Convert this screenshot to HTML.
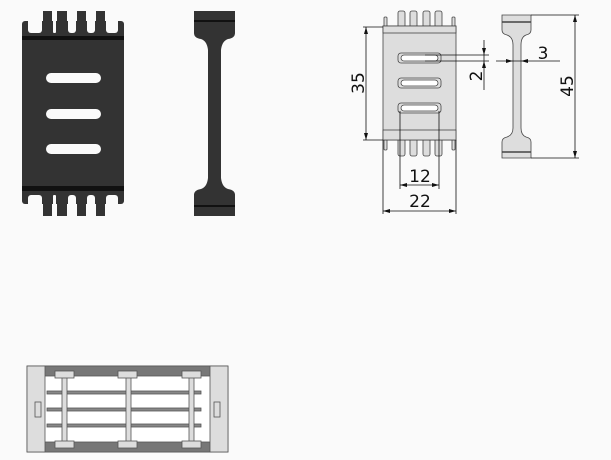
<!DOCTYPE html>
<html><head><style>
html,body{margin:0;padding:0;background:#fafafa;}
svg{display:block;}
text{font-family:"DejaVu Sans","Liberation Sans",sans-serif;fill:#111;}
</style></head><body>
<svg width="611" height="460" viewBox="0 0 611 460" xmlns="http://www.w3.org/2000/svg">
<rect width="611" height="460" fill="#fafafa"/>
<g fill="#333">
<rect x="22" y="21" width="102" height="183" rx="3"/>
<rect x="43" y="11" width="9" height="25"/><rect x="57" y="11" width="10" height="25"/>
<rect x="77" y="11" width="9" height="25"/><rect x="96" y="11" width="9" height="25"/>
<rect x="43" y="190" width="9" height="26"/><rect x="57" y="190" width="10" height="26"/>
<rect x="77" y="190" width="9" height="26"/><rect x="96" y="190" width="9" height="26"/>
</g>
<g fill="#fafafa">
<rect x="28" y="11" width="14" height="22" rx="3"/><rect x="53" y="11" width="3" height="22" rx="1"/>
<rect x="68" y="11" width="8" height="22" rx="3"/><rect x="87" y="11" width="8" height="22" rx="3"/>
<rect x="106" y="11" width="12" height="22" rx="3"/>
<rect x="28" y="195" width="14" height="22" rx="3"/><rect x="53" y="195" width="3" height="22" rx="1"/>
<rect x="68" y="195" width="8" height="22" rx="3"/><rect x="87" y="195" width="8" height="22" rx="3"/>
<rect x="106" y="195" width="12" height="22" rx="3"/>
<rect x="46" y="73" width="55" height="10" rx="5"/>
<rect x="46" y="109" width="55" height="10" rx="5"/>
<rect x="46" y="144" width="55" height="10" rx="5"/>
</g>
<rect x="22" y="36" width="102" height="4" fill="#111"/>
<rect x="22" y="186" width="102" height="5" fill="#111"/>
<path d="M194 11 H235 V33 Q235 38 228 39 Q222 41 221 50 V178 Q222 187 228 189 Q235 190 235 195 V216 H194 V195 Q194 190 201 189 Q207 187 208 178 V50 Q207 41 201 39 Q194 38 194 33 Z" fill="#333"/>
<rect x="194" y="20" width="41" height="2" fill="#111"/>
<rect x="194" y="205" width="41" height="2" fill="#111"/>
<g stroke="#444" stroke-width="0.8" fill="#ddd">
<rect x="398" y="11" width="7" height="20" rx="2"/><rect x="410" y="11" width="7" height="20" rx="2"/>
<rect x="423" y="11" width="7" height="20" rx="2"/><rect x="435" y="11" width="7" height="20" rx="2"/>
<rect x="384" y="17" width="3" height="14" rx="1"/><rect x="452" y="17" width="3" height="14" rx="1"/>
<rect x="398" y="136" width="7" height="20" rx="2"/><rect x="410" y="136" width="7" height="20" rx="2"/>
<rect x="423" y="136" width="7" height="20" rx="2"/><rect x="435" y="136" width="7" height="20" rx="2"/>
<rect x="384" y="136" width="3" height="14" rx="1"/><rect x="452" y="136" width="3" height="14" rx="1"/>
<rect x="383" y="26" width="73" height="114"/>
<rect x="383" y="26" width="73" height="7"/>
<rect x="383" y="130" width="73" height="10"/>
<rect x="398" y="53" width="43" height="10" rx="3"/>
<rect x="398" y="78" width="43" height="10" rx="3"/>
<rect x="398" y="103" width="43" height="10" rx="3"/>
</g>
<g fill="#fff" stroke="#444" stroke-width="0.8">
<rect x="401" y="55" width="37" height="6" rx="3"/>
<rect x="401" y="80" width="37" height="6" rx="3"/>
<rect x="401" y="105" width="37" height="6" rx="3"/>
</g>
<path d="M502 15 H531 V30 Q531 34 526 35 Q521 37 521 45 V128 Q521 135 526 137 Q531 138 531 142 V158 H502 V142 Q502 138 507 137 Q513 135 513 128 V45 Q513 37 507 35 Q502 34 502 30 Z" fill="#ddd" stroke="#444" stroke-width="0.8"/>
<line x1="502" y1="22" x2="531" y2="22" stroke="#444" stroke-width="1.5"/>
<line x1="502" y1="152" x2="531" y2="152" stroke="#444" stroke-width="1.5"/>
<g stroke="#111" stroke-width="0.8" fill="none">
<line x1="363" y1="27" x2="383" y2="27"/><line x1="363" y1="140" x2="383" y2="140"/>
<line x1="366" y1="27" x2="366" y2="140"/>
<line x1="531" y1="15" x2="579" y2="15"/><line x1="531" y1="158" x2="579" y2="158"/>
<line x1="575" y1="15" x2="575" y2="158"/>
<line x1="383" y1="140" x2="383" y2="214"/><line x1="456" y1="140" x2="456" y2="214"/>
<line x1="383" y1="211" x2="456" y2="211"/>
<line x1="400" y1="111" x2="400" y2="189"/><line x1="439" y1="111" x2="439" y2="189"/>
<line x1="400" y1="185" x2="439" y2="185"/>
<line x1="425" y1="55" x2="489" y2="55"/><line x1="425" y1="61" x2="489" y2="61"/>
<line x1="484" y1="40" x2="484" y2="90"/>
<line x1="496" y1="61" x2="560" y2="61"/>
</g>
<g fill="#111">
<path d="M366 27 l-2 7 h4z"/><path d="M366 140 l-2 -7 h4z"/>
<path d="M575 15 l-2 7 h4z"/><path d="M575 158 l-2 -7 h4z"/>
<path d="M383 211 l7 -2 v4z"/><path d="M456 211 l-7 -2 v4z"/>
<path d="M400 185 l7 -2 v4z"/><path d="M439 185 l-7 -2 v4z"/>
<path d="M484 55 l-2 -7 h4z"/><path d="M484 61 l-2 7 h4z"/>
<path d="M513 61 l-7 -2 v4z"/><path d="M521 61 l7 -2 v4z"/>
</g>
<text x="420" y="207" font-size="17" text-anchor="middle">22</text>
<text x="420" y="182" font-size="17" text-anchor="middle">12</text>
<text x="543" y="59" font-size="17" text-anchor="middle">3</text>
<text transform="translate(364,83) rotate(-90)" font-size="17" text-anchor="middle">35</text>
<text transform="translate(573,86) rotate(-90)" font-size="17" text-anchor="middle">45</text>
<text transform="translate(482,76) rotate(-90)" font-size="17" text-anchor="middle">2</text>
<g stroke="#555" stroke-width="0.8">
<rect x="27" y="366" width="201" height="86" fill="#fff"/>
<rect x="43" y="366" width="169" height="10" fill="#777"/>
<rect x="43" y="442" width="169" height="10" fill="#777"/>
<rect x="27" y="366" width="18" height="86" fill="#ddd"/>
<rect x="210" y="366" width="18" height="86" fill="#ddd"/>
<rect x="35" y="402" width="6" height="15" fill="#ddd"/>
<rect x="214" y="402" width="6" height="15" fill="#ddd"/>
<rect x="47" y="391" width="154" height="3" fill="#888"/>
<rect x="47" y="408" width="154" height="3" fill="#888"/>
<rect x="47" y="424" width="154" height="3" fill="#888"/>
<rect x="62" y="377" width="5" height="66" fill="#ddd"/>
<rect x="126" y="377" width="5" height="66" fill="#ddd"/>
<rect x="189" y="377" width="5" height="66" fill="#ddd"/>
<rect x="55" y="371" width="19" height="7" fill="#ddd"/>
<rect x="118" y="371" width="19" height="7" fill="#ddd"/>
<rect x="182" y="371" width="19" height="7" fill="#ddd"/>
<rect x="55" y="441" width="19" height="7" fill="#ddd"/>
<rect x="118" y="441" width="19" height="7" fill="#ddd"/>
<rect x="182" y="441" width="19" height="7" fill="#ddd"/>
</g>
</svg>
</body></html>
